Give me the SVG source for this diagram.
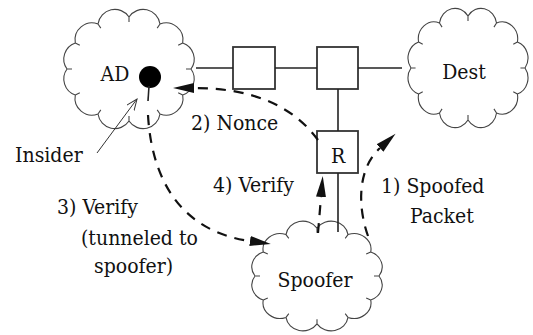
<svg xmlns="http://www.w3.org/2000/svg" xmlns:xlink="http://www.w3.org/1999/xlink" width="533" height="335" viewBox="0 0 533 335">
<style>
.cloud{fill:none;stroke:#444;stroke-width:1.1;vector-effect:non-scaling-stroke}
.box{fill:#fff;stroke:#333;stroke-width:1.8}
.ln{stroke:#222;stroke-width:1.6;fill:none}
.dash{stroke:#111;stroke-width:2.2;fill:none;stroke-dasharray:10 8}
.t{font-family:'DejaVu Serif Condensed','DejaVu Serif',serif;font-stretch:condensed;font-size:21px;fill:#111}
</style>
<defs>
<path id="cloudShape" class="cloud" d="M62,0 A17,17 0 0 1 53.7,26 A17,17 0 0 1 31,45 A17,17 0 0 1 0,52 A17,17 0 0 1 -31,45 A17,17 0 0 1 -53.7,26 A17,17 0 0 1 -62,0 A17,17 0 0 1 -53.7,-26 A17,17 0 0 1 -31,-45 A17,17 0 0 1 0,-52 A17,17 0 0 1 31,-45 A17,17 0 0 1 53.7,-26 A17,17 0 0 1 62,0 Z M62,0 l-5,0 M53.7,26 l-4.5,-2.2 M31,45 l-2.8,-4.1 M0,52 l0,-5 M-31,45 l2.8,-4.1 M-53.7,26 l4.5,-2.2 M-62,0 l5,0 M-53.7,-26 l4.5,2.2 M-31,-45 l2.8,4.1 M0,-52 l0,5 M31,-45 l-2.8,4.1 M53.7,-26 l-4.5,2.2"/>
<marker id="ah" markerUnits="userSpaceOnUse" markerWidth="22" markerHeight="12" refX="0" refY="6" orient="auto">
<path d="M0,1 L21,6 L0,11 Z" fill="#111"/>
</marker>
<marker id="open" markerUnits="userSpaceOnUse" markerWidth="12" markerHeight="10" refX="11" refY="5" orient="auto">
<path d="M0,0.5 L11,5 L0,9.5" fill="none" stroke="#333" stroke-width="1"/>
</marker>
</defs>

<g id="node-AD">
<use xlink:href="#cloudShape" transform="translate(129,69)"/>
<text class="t" x="115" y="81" text-anchor="middle">AD</text>
</g>
<g id="node-Dest">
<use xlink:href="#cloudShape" transform="translate(468,68) scale(0.92,1)"/>
<text class="t" x="464" y="79" text-anchor="middle">Dest</text>
</g>
<g id="node-Spoofer">
<use xlink:href="#cloudShape" transform="translate(317,276) scale(1,0.92)"/>
<text class="t" x="315" y="287" text-anchor="middle">Spoofer</text>
</g>
<g id="node-insider">
<circle cx="150" cy="77" r="11" fill="#000"/>
<line class="ln" x1="149" y1="86" x2="148" y2="101"/>
</g>
<g id="node-router1"><rect class="box" x="233" y="47" width="42" height="42"/></g>
<g id="node-router2"><rect class="box" x="317" y="47" width="41" height="42"/></g>
<g id="node-R">
<rect class="box" x="317" y="131" width="41" height="42"/>
<text class="t" x="338" y="163" text-anchor="middle">R</text>
</g>

<g id="connectors">
<line class="ln" x1="196" y1="68" x2="233" y2="68"/>
<line class="ln" x1="275" y1="68" x2="317" y2="68"/>
<line class="ln" x1="358" y1="68" x2="402" y2="68"/>
<line class="ln" x1="338" y1="89" x2="338" y2="131"/>
<line class="ln" x1="338" y1="173" x2="338" y2="232"/>
<line x1="97" y1="153" x2="137" y2="99" stroke="#333" stroke-width="1" marker-end="url(#open)"/>
<path class="dash" d="M368,236 C357,205 358,168 380,148" marker-end="url(#ah)"/>
<path class="dash" d="M318,140 Q280,88 194,88" marker-end="url(#ah)"/>
<path class="dash" d="M148,115 C152,185 185,232 250,241" marker-end="url(#ah)"/>
<path class="dash" d="M318,233 L321,197" marker-end="url(#ah)"/>
</g>

<g id="labels">
<text class="t" x="15" y="162">Insider</text>
<text class="t" x="191" y="130">2) Nonce</text>
<text class="t" x="213" y="192">4) Verify</text>
<text class="t" x="381" y="193">1) Spoofed</text>
<text class="t" x="410" y="223">Packet</text>
<text class="t" x="57" y="214">3) Verify</text>
<text class="t" x="81" y="245">(tunneled to</text>
<text class="t" x="94" y="273">spoofer)</text>
</g>
</svg>
